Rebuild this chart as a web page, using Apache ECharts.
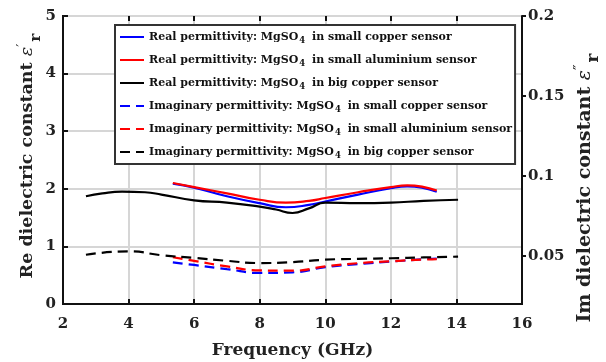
<!DOCTYPE html>
<html><head><meta charset="utf-8">
<script src="https://cdn.jsdelivr.net/npm/echarts@6/dist/echarts.min.js"></script>
<style>html,body{margin:0;padding:0;background:#fff}#c{width:606px;height:362px}</style>
</head><body><div id="c"></div>
<script>
// ---- data ----
const freqBig = [2.7, 3.2, 3.8, 4.5, 5.0, 6.0, 7.0, 8.0, 8.5, 9.0, 9.5, 10.0, 11.0, 12.0, 13.0, 14.05];
const reBig   = [1.87, 1.92, 1.95, 1.94, 1.90, 1.80, 1.76, 1.69, 1.64, 1.58, 1.66, 1.76, 1.75, 1.76, 1.79, 1.81];
const freqSmall = [5.35, 6.0, 7.0, 8.0, 8.8, 9.5, 10.0, 11.0, 12.0, 12.5, 13.4];
const reCopper  = [2.09, 2.02, 1.87, 1.75, 1.68, 1.72, 1.78, 1.90, 2.01, 2.04, 1.95];
const reAlu     = [2.10, 2.03, 1.92, 1.81, 1.76, 1.79, 1.84, 1.94, 2.03, 2.06, 1.97];
const freqImBig = [2.7, 4.0, 5.0, 6.0, 7.0, 8.0, 9.0, 10.0, 11.0, 12.0, 13.0, 14.05];
const imBig     = [0.0508, 0.0529, 0.0505, 0.0488, 0.047, 0.0456, 0.0462, 0.0477, 0.0482, 0.0486, 0.0491, 0.0496];
const freqImSmall = [5.35, 6.0, 7.0, 8.0, 9.0, 10.0, 11.0, 12.0, 13.0, 13.4];
const imCopper  = [0.0460, 0.0444, 0.0418, 0.0394, 0.0398, 0.0430, 0.0450, 0.0465, 0.0480, 0.0484];
const imAlu     = [0.0492, 0.0470, 0.0435, 0.0410, 0.0408, 0.0435, 0.0455, 0.0467, 0.0478, 0.0481];
const xTicks = [2, 4, 6, 8, 10, 12, 14, 16];
const leftTicks = [0, 1, 2, 3, 4, 5];
const rightTicks = [0.05, 0.1, 0.15, 0.2];
const names = [
  'Real permittivity: MgSO4 in small copper sensor',
  'Real permittivity: MgSO4 in small aluminium sensor',
  'Real permittivity: MgSO4 in big copper sensor',
  'Imaginary permittivity: MgSO4 in small copper sensor',
  'Imaginary permittivity: MgSO4 in small aluminium sensor',
  'Imaginary permittivity: MgSO4 in big copper sensor'
];
const xName = 'Frequency (GHz)';
const leftName = 'Re dielectric constant {e|ε}{p|\u2032}{r|r}';
const rightName = 'Im dielectric constant {e|ε}{p|\u2033}{r|r}';

const FONT = 'DejaVu Serif';
const zip = (a, b) => a.map((v, i) => [v, b[i]]);
const chart = echarts.init(document.getElementById('c'));
const dash = [10, 6];
function mk(name, xs, ys, color, dashed, yi) {
  return {
    name, type: 'line', yAxisIndex: yi, data: zip(xs, ys), smooth: 0.5,
    symbol: 'none', z: dashed ? 3 : 4,
    lineStyle: { color, width: 2.2, type: dashed ? dash : 'solid' },
    itemStyle: { color }
  };
}
const lab = { fontFamily: FONT, fontWeight: 'bold', fontSize: 15, color: '#222' };
function nameRich(fs) {
  return {
    e: { fontFamily: FONT, fontSize: fs, fontStyle: 'italic', fill: '#222', color: '#222' },
    p: { fontFamily: FONT, fontSize: fs - 4, padding: [0, 0, 10, 0], fill: '#222', color: '#222' },
    r: { fontFamily: FONT, fontWeight: 'bold', fontSize: fs - 2, padding: [17, 0, 0, 2], fill: '#222', color: '#222' }
  };
}
function nameText(text, x, y, fs) {
  return {
    type: 'text', x, y, rotation: Math.PI / 2, z: 10,
    style: { text, fontFamily: FONT, fontWeight: 'bold', fontSize: fs, fill: '#222',
      align: 'center', verticalAlign: 'middle', rich: nameRich(fs) }
  };
}
chart.setOption({
  animation: false,
  grid: { left: 63, right: 84, top: 16, bottom: 58, show: true, borderColor: '#111', borderWidth: 2, outerBoundsMode: 'none' },
  graphic: [
    nameText(leftName, 27, 156, 17.5),
    nameText(rightName, 585, 188, 19)
  ],
  legend: {
    orient: 'vertical', left: 115, top: 25,
    backgroundColor: '#fff', borderColor: '#333', borderWidth: 2,
    padding: [4, 3, 4, 4], itemGap: 7, itemWidth: 24, itemHeight: 14,
    itemStyle: { opacity: 0 },
    data: names,
    formatter: n => n.replace('MgSO4', 'MgSO{s|4}'),
    textStyle: {
      fontFamily: FONT, fontWeight: 'bold', fontSize: 11, lineHeight: 14, color: '#111',
      rich: { s: { fontFamily: FONT, fontWeight: 'bold', fontSize: 8.5, lineHeight: 10, padding: [7, 3, 0, 1] } }
    }
  },
  xAxis: [{
    type: 'value', min: 2, max: 16, interval: 2,
    name: xName, nameLocation: 'middle', nameGap: 38,
    nameTextStyle: { fontFamily: FONT, fontWeight: 'bold', fontSize: 17, color: '#222' },
    axisLine: { show: true, lineStyle: { color: '#111', width: 2 } },
    axisTick: { show: true, inside: true, length: 5, lineStyle: { color: '#111', width: 2 } },
    axisLabel: Object.assign({ margin: 13 }, lab),
    splitLine: { show: true, lineStyle: { color: '#d6d6d6', width: 2 } }
  }, {
    type: 'value', min: 2, max: 16, interval: 2, position: 'top',
    axisLine: { show: false }, axisLabel: { show: false }, splitLine: { show: false },
    axisTick: { show: true, inside: true, length: 5, lineStyle: { color: '#111', width: 2 } }
  }],
  yAxis: [{
    type: 'value', min: 0, max: 5, interval: 1,
    axisLine: { show: true, lineStyle: { color: '#111', width: 2 } },
    axisTick: { show: true, inside: true, length: 5, lineStyle: { color: '#111', width: 2 } },
    axisLabel: Object.assign({ margin: 7 }, lab),
    splitLine: { show: true, lineStyle: { color: '#d6d6d6', width: 2 } }
  }, {
    type: 'value', min: 0.02, max: 0.2, position: 'right',
    axisLine: { show: true, lineStyle: { color: '#111', width: 2 } },
    axisTick: { show: true, inside: false, length: 4, customValues: rightTicks, lineStyle: { color: '#111', width: 2 } },
    axisLabel: Object.assign({ margin: 6, customValues: rightTicks, formatter: v => String(+v.toFixed(2)) }, lab),
    splitLine: { show: false }
  }],
  series: [
    mk(names[0], freqSmall, reCopper, '#0000ff', false, 0),
    mk(names[1], freqSmall, reAlu, '#ff0000', false, 0),
    mk(names[2], freqBig, reBig, '#000000', false, 0),
    mk(names[3], freqImSmall, imCopper, '#0000ff', true, 1),
    mk(names[4], freqImSmall, imAlu, '#ff0000', true, 1),
    mk(names[5], freqImBig, imBig, '#000000', true, 1)
  ]
});
</script></body></html>
